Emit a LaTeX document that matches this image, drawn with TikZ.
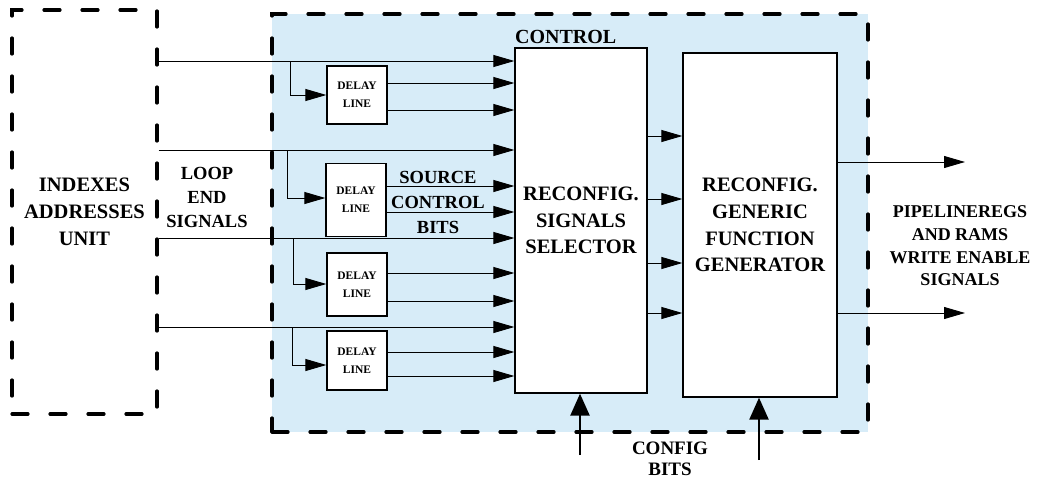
\documentclass[tikz,border=0pt]{standalone}
\usepackage{fontspec}
\setmainfont{Liberation Serif}
\usetikzlibrary{arrows.meta}
\definecolor{ctrlblue}{HTML}{D7ECF8}
\begin{document}
\begin{tikzpicture}[x=1pt,y=-1pt,
  sig/.style={line width=0.9pt,-{Triangle[length=21pt,width=12pt]}},
  cfg/.style={line width=2.4pt,-{Triangle[length=22pt,width=19pt]}},
  wire/.style={line width=0.9pt},
  blk/.style={draw,line width=1.3pt,fill=white,inner sep=0pt,align=center},
  dashbox/.style={draw,line width=3.2pt,dash pattern=on 16pt off 22pt,line cap=round,inner sep=0pt,align=center},
  dly/.style={blk,minimum width=60pt,font=\bfseries\fontsize{11.5}{18}\selectfont},
  big/.style={font=\bfseries\fontsize{20.5}{26.8}\selectfont},
  lbl/.style={align=center,inner sep=0pt}
]
\useasboundingbox (0,0) rectangle (1041,482);

% outer units
\node[dashbox,minimum width=145pt,minimum height=404pt,big] (iau) at (84.5,212)
  {INDEXES\\ADDRESSES\\UNIT};
\node[dashbox,fill=ctrlblue,minimum width=596pt,minimum height=418pt] (ctrl) at (570,223) {};
\node[lbl,font=\bfseries\fontsize{20}{24}\selectfont,anchor=west] (ctrllbl) at (515,37) {CONTROL};

% main blocks
\node[blk,big,minimum width=132pt,minimum height=345pt] (sel) at (581,220.5)
  {RECONFIG.\\SIGNALS\\SELECTOR};
\node[blk,big,minimum width=154pt,minimum height=344pt] (gen) at (760,225)
  {RECONFIG.\\GENERIC\\FUNCTION\\GENERATOR};

% delay lines
\node[dly,minimum height=58pt] (d1) at (357,95) {DELAY\\LINE};
\node[dly,minimum height=73pt] (d2) at (356,200) {DELAY\\LINE};
\node[dly,minimum height=63pt] (d3) at (357,284.5) {DELAY\\LINE};
\node[dly,minimum height=59pt] (d4) at (357,360.5) {DELAY\\LINE};

% loop end signals, each branching into its delay line
\foreach \i/\y/\bx/\by/\oa/\ob in {1/61/290/95/83/110, 2/150/287/198/186/212,
                                    3/238/293/284/273/301, 4/327/292/365/352/376}{
  \draw[sig] (iau.east |- 0,\y) -- (sel.west |- 0,\y);
  \coordinate (b\i) at (\bx,\y);
  \draw[sig] (b\i) |- (d\i.west |- 0,\by);
  \draw[sig] (d\i.east |- 0,\oa) -- (sel.west |- 0,\oa);
  \draw[sig] (d\i.east |- 0,\ob) -- (sel.west |- 0,\ob);
}

% selector to generator
\foreach \y in {136,199,263,313}{
  \draw[sig] (sel.east |- 0,\y) -- (gen.west |- 0,\y);
}

% outputs
\coordinate (o1) at (965,162);
\coordinate (o2) at (965,313);
\draw[sig] (gen.east |- o1) -- (o1);
\draw[sig] (gen.east |- o2) -- (o2);

% configuration bits
\coordinate (c1) at (580,455);
\coordinate (c2) at (759,460);
\draw[cfg] (c1) -- (c1 |- sel.south);
\draw[cfg] (c2) -- (c2 |- gen.south);

% labels
\node[lbl,font=\bfseries\fontsize{18.5}{24}\selectfont] (loop) at (207,197) {LOOP\\END\\SIGNALS};
\node[lbl,font=\bfseries\fontsize{18.5}{25}\selectfont] (src) at (438,202) {SOURCE\\CONTROL\\BITS};
\node[lbl,font=\bfseries\fontsize{18}{22.7}\selectfont] (outlbl) at (960,246)
  {PIPELINEREGS\\AND RAMS\\WRITE ENABLE\\SIGNALS};
\node[lbl,font=\bfseries\fontsize{19}{21}\selectfont] (cfglbl) at (670,459) {CONFIG\\BITS};
\end{tikzpicture}
\end{document}
